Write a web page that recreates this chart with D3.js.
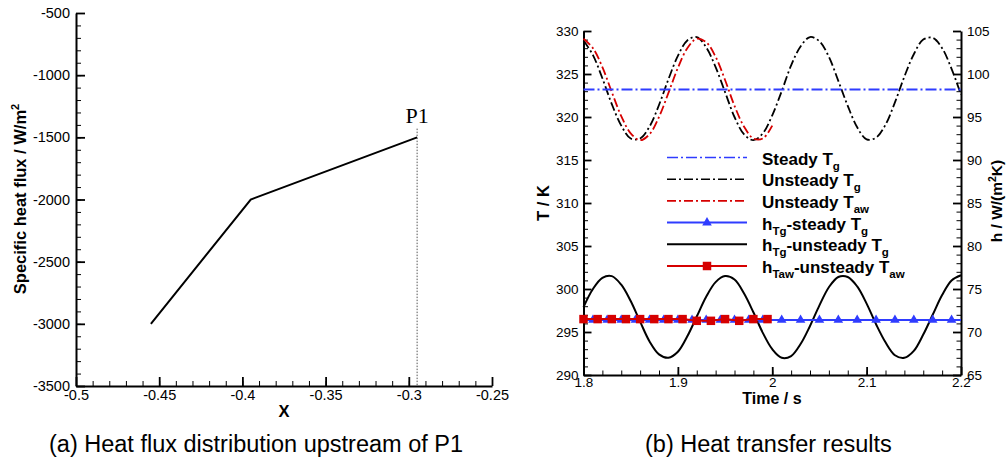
<!DOCTYPE html>
<html>
<head>
<meta charset="utf-8">
<script src="https://cdn.jsdelivr.net/npm/d3@7"></script>
<style>
  body { margin: 0; background: #fff; }
</style>
</head>
<body>
<svg id="fig" width="1008" height="463"></svg>
<script>
// ---- (a) heat flux upstream of P1 ----
const fluxX = [-0.455, -0.395, -0.295];
const fluxQ = [-3000, -2000, -1500];
const p1X = -0.295;
const p1LineTop = -1430;
const fluxXTicks = [-0.5, -0.45, -0.4, -0.35, -0.3, -0.25];
const fluxYTicks = [-3500, -3000, -2500, -2000, -1500, -1000, -500];

// ---- (b) heat transfer results ----
const timeT = [1.80, 1.81, 1.82, 1.83, 1.84, 1.85, 1.86, 1.87, 1.88, 1.89,
               1.90, 1.91, 1.92, 1.93, 1.94, 1.95, 1.96, 1.97, 1.98, 1.99,
               2.00, 2.01, 2.02, 2.03, 2.04, 2.05, 2.06, 2.07, 2.08, 2.09,
               2.10, 2.11, 2.12, 2.13, 2.14, 2.15, 2.16, 2.17, 2.18, 2.19, 2.20];
const unsteadyTg = [328.9, 327.2, 324.5, 321.5, 319.0, 317.5, 317.5, 318.9, 321.4, 324.4,
                    327.1, 328.9, 329.3, 328.1, 325.8, 322.9, 320.0, 318.0, 317.3, 318.1,
                    320.2, 323.0, 326.0, 328.2, 329.3, 328.8, 327.0, 324.2, 321.3, 318.8,
                    317.4, 317.6, 319.1, 321.7, 324.7, 327.3, 329.0, 329.2, 328.0, 325.6, 322.6];
const timeTaw = [1.80, 1.81, 1.82, 1.83, 1.84, 1.85, 1.86, 1.87, 1.88, 1.89,
                 1.90, 1.91, 1.92, 1.93, 1.94, 1.95, 1.96, 1.97, 1.98, 1.99, 2.00];
const unsteadyTaw = [329.1, 328.0, 325.8, 322.9, 320.1, 318.1, 317.3, 318.0, 320.0, 322.8,
                     325.7, 328.0, 329.1, 328.7, 327.0, 324.3, 321.3, 318.9, 317.5, 317.5, 319.0];
const timeSteady = [1.80, 2.20];
const steadyTg = [323.2, 323.2];
const hUnsteadyTg = [72.9, 75.0, 76.3, 76.5, 75.5, 73.6, 71.2, 68.9, 67.4, 67.0,
                     67.7, 69.5, 71.8, 74.1, 75.8, 76.5, 76.1, 74.5, 72.3, 69.9,
                     68.0, 67.0, 67.2, 68.6, 70.7, 73.1, 75.2, 76.4, 76.4, 75.3,
                     73.3, 70.9, 68.8, 67.3, 67.0, 67.8, 69.7, 72.0, 74.3, 76.0, 76.6];
const timeHSteady = [1.81, 1.825, 1.84, 1.855, 1.87, 1.885, 1.90, 1.915, 1.93, 1.945,
                     1.96, 1.975, 1.99, 2.01, 2.03, 2.05, 2.07, 2.09, 2.11, 2.13,
                     2.15, 2.17, 2.19];
const hSteadyTg = [71.4, 71.4, 71.4, 71.4, 71.4, 71.4, 71.4, 71.4, 71.4, 71.4,
                   71.4, 71.4, 71.4, 71.4, 71.4, 71.4, 71.4, 71.4, 71.4, 71.4,
                   71.4, 71.4, 71.4];
const timeHTaw = [1.800, 1.815, 1.830, 1.845, 1.860, 1.875, 1.890, 1.905, 1.920, 1.935,
                  1.950, 1.965, 1.980, 1.995];
const hUnsteadyTaw = [71.5, 71.5, 71.5, 71.5, 71.5, 71.5, 71.5, 71.5, 71.3, 71.3,
                      71.5, 71.3, 71.5, 71.5];
const timeTicks = [1.8, 1.9, 2.0, 2.1, 2.2];
const tempTicks = [290, 295, 300, 305, 310, 315, 320, 325, 330];
const hTicks = [65, 70, 75, 80, 85, 90, 95, 100, 105];

const FONT = '"Liberation Sans", Arial, Helvetica, sans-serif';
const BLUE = '#2f3cff';
const RED = '#d60000';

const svg = d3.select('#fig');

// plain hyphen minus, like the original figure
const plain = digits => d => String(+d.toFixed(digits));

function styleAxis(g, size) {
  g.attr('font-family', FONT).attr('font-size', size);
  g.select('.domain').attr('stroke', '#000').attr('stroke-width', 2);
  g.selectAll('.tick line').attr('stroke', '#000').attr('stroke-width', 1.8);
  g.selectAll('.tick text').attr('fill', '#000');
}
function styleMinor(g) {
  g.select('.domain').remove();
  g.selectAll('.tick line').attr('stroke', '#000').attr('stroke-width', 1);
}

// ================= (a) =================
const xF = d3.scaleLinear().domain([-0.5, -0.25]).range([76, 492]);
const yF = d3.scaleLinear().domain([-3500, -500]).range([386, 13]);

svg.append('g').attr('transform', 'translate(0,386)')
  .call(d3.axisBottom(xF).tickValues(d3.range(-0.5, -0.2499, 0.01)).tickSize(-5).tickFormat(''))
  .call(styleMinor);
svg.append('g').attr('transform', 'translate(76,0)')
  .call(d3.axisLeft(yF).tickValues(d3.range(-3500, -499, 100)).tickSize(-5).tickFormat(''))
  .call(styleMinor);

svg.append('g').attr('transform', 'translate(0,386)')
  .call(d3.axisBottom(xF).tickValues(fluxXTicks).tickSizeInner(-9).tickSizeOuter(0).tickPadding(4)
    .tickFormat(plain(2)))
  .call(g => styleAxis(g, 14.5));
svg.append('g').attr('transform', 'translate(76,0)')
  .call(d3.axisLeft(yF).tickValues(fluxYTicks).tickSizeInner(-9).tickSizeOuter(0).tickPadding(6)
    .tickFormat(plain(0)))
  .call(g => styleAxis(g, 14.5));

// P1 marker line
svg.append('line')
  .attr('x1', xF(p1X)).attr('x2', xF(p1X))
  .attr('y1', yF(p1LineTop)).attr('y2', yF(-3500))
  .attr('stroke', '#555').attr('stroke-width', 1).attr('stroke-dasharray', '1.5,1.5');
svg.append('text')
  .attr('x', xF(p1X)).attr('y', 123)
  .attr('text-anchor', 'middle')
  .attr('font-family', '"Liberation Serif", "Times New Roman", serif')
  .attr('font-size', 22).text('P1');

const fluxData = fluxX.map((x, i) => ({x, q: fluxQ[i]}));
svg.append('path').datum(fluxData)
  .attr('fill', 'none').attr('stroke', '#000').attr('stroke-width', 2)
  .attr('d', d3.line().x(d => xF(d.x)).y(d => yF(d.q)));

// axis titles (a)
svg.append('text').attr('x', 284).attr('y', 417).attr('text-anchor', 'middle')
  .attr('font-family', FONT).attr('font-weight', 'bold').attr('font-size', 16.5).text('X');
const yTitleA = svg.append('text')
  .attr('transform', 'translate(26,199) rotate(-90)')
  .attr('text-anchor', 'middle')
  .attr('font-family', FONT).attr('font-weight', 'bold').attr('font-size', 16.5);
yTitleA.append('tspan').text('Specific heat flux / W/m');
yTitleA.append('tspan').attr('dy', -7).attr('font-size', 11).text('2');

// ================= (b) =================
const xT = d3.scaleLinear().domain([1.8, 2.2]).range([583.5, 961]);
const yT = d3.scaleLinear().domain([290, 330]).range([375, 31]);
const yH = d3.scaleLinear().domain([65, 105]).range([375, 31]);

svg.append('g').attr('transform', 'translate(0,375)')
  .call(d3.axisBottom(xT).tickValues(d3.range(1.8, 2.2001, 0.02)).tickSize(-4.5).tickFormat(''))
  .call(styleMinor);
svg.append('g').attr('transform', 'translate(583.5,0)')
  .call(d3.axisLeft(yT).tickValues(d3.range(290, 330.01, 1)).tickSize(-4.5).tickFormat(''))
  .call(styleMinor);
svg.append('g').attr('transform', 'translate(961,0)')
  .call(d3.axisRight(yH).tickValues(d3.range(65, 105.01, 1)).tickSize(-4.5).tickFormat(''))
  .call(styleMinor);

svg.append('g').attr('transform', 'translate(0,375)')
  .call(d3.axisBottom(xT).tickValues(timeTicks).tickSizeInner(-8).tickSizeOuter(0).tickPadding(2)
    .tickFormat(plain(1)))
  .call(g => styleAxis(g, 13.5));
svg.append('g').attr('transform', 'translate(583.5,0)')
  .call(d3.axisLeft(yT).tickValues(tempTicks).tickSizeInner(-8).tickSizeOuter(0).tickPadding(5))
  .call(g => styleAxis(g, 13.5));
svg.append('g').attr('transform', 'translate(961,0)')
  .call(d3.axisRight(yH).tickValues(hTicks).tickSizeInner(-8).tickSizeOuter(0).tickPadding(6))
  .call(g => styleAxis(g, 13.5));

const plot = svg.append('g');
const lineT = d3.line().x(d => xT(d.t)).y(d => yT(d.v)).curve(d3.curveCatmullRom);
const lineH = d3.line().x(d => xT(d.t)).y(d => yH(d.v)).curve(d3.curveCatmullRom);
const zip = (ts, vs) => ts.map((t, i) => ({t, v: vs[i]}));

// temperature curves (left axis)
plot.append('path').datum(zip(timeT, unsteadyTg))
  .attr('fill', 'none').attr('stroke', '#000').attr('stroke-width', 1.8)
  .attr('stroke-dasharray', '9,3,2,3').attr('d', lineT);
plot.append('path').datum(zip(timeTaw, unsteadyTaw))
  .attr('fill', 'none').attr('stroke', RED).attr('stroke-width', 1.8)
  .attr('stroke-dasharray', '9,3,2,3').attr('d', lineT);
plot.append('path').datum(zip(timeSteady, steadyTg))
  .attr('fill', 'none').attr('stroke', BLUE).attr('stroke-width', 1.8)
  .attr('stroke-dasharray', '11,3,2,3').attr('d', lineT);

// heat transfer coefficient curves (right axis)
plot.append('path').datum(zip(timeT, hUnsteadyTg))
  .attr('fill', 'none').attr('stroke', '#000').attr('stroke-width', 2).attr('d', lineH);

const hSteadyPts = zip(timeHSteady, hSteadyTg);
const hSteadyLine = [{t: xT.domain()[0], v: hSteadyTg[0]}, ...hSteadyPts,
                     {t: xT.domain()[1], v: hSteadyTg[hSteadyTg.length - 1]}];
plot.append('path').datum(hSteadyLine)
  .attr('fill', 'none').attr('stroke', BLUE).attr('stroke-width', 2)
  .attr('d', d3.line().x(d => xT(d.t)).y(d => yH(d.v)));
plot.selectAll('.tri').data(hSteadyPts).join('path')
  .attr('class', 'tri')
  .attr('transform', d => `translate(${xT(d.t)},${yH(d.v)})`)
  .attr('d', d3.symbol(d3.symbolTriangle, 40)).attr('fill', BLUE);

const hTawPts = zip(timeHTaw, hUnsteadyTaw);
plot.append('path').datum(hTawPts)
  .attr('fill', 'none').attr('stroke', RED).attr('stroke-width', 2)
  .attr('d', d3.line().x(d => xT(d.t)).y(d => yH(d.v)));
plot.selectAll('.sq').data(hTawPts).join('path')
  .attr('class', 'sq')
  .attr('transform', d => `translate(${xT(d.t)},${yH(d.v)})`)
  .attr('d', d3.symbol(d3.symbolSquare, 72)).attr('fill', RED);

// legend
const legendItems = [
  {color: BLUE, dash: '11,3,2,3', marker: null, parts: [['Steady T', 0], ['g', 1]]},
  {color: '#000', dash: '9,3,2,3', marker: null, parts: [['Unsteady T', 0], ['g', 1]]},
  {color: RED, dash: '9,3,2,3', marker: null, parts: [['Unsteady T', 0], ['aw', 1]]},
  {color: BLUE, dash: null, marker: 'tri', parts: [['h', 0], ['Tg', 1], ['-steady T', 0], ['g', 1]]},
  {color: '#000', dash: null, marker: null, parts: [['h', 0], ['Tg', 1], ['-unsteady T', 0], ['g', 1]]},
  {color: RED, dash: null, marker: 'sq', parts: [['h', 0], ['Taw', 1], ['-unsteady T', 0], ['aw', 1]]}
];
const legend = svg.append('g');
legendItems.forEach((it, i) => {
  const y = 157.5 + i * 21.7;
  legend.append('line').attr('x1', 667).attr('x2', 747).attr('y1', y).attr('y2', y)
    .attr('stroke', it.color).attr('stroke-width', it.dash ? 1.6 : 2)
    .attr('stroke-dasharray', it.dash);
  if (it.marker === 'tri') {
    legend.append('path').attr('transform', `translate(707,${y})`)
      .attr('d', d3.symbol(d3.symbolTriangle, 40)).attr('fill', it.color);
  } else if (it.marker === 'sq') {
    legend.append('path').attr('transform', `translate(707,${y})`)
      .attr('d', d3.symbol(d3.symbolSquare, 72)).attr('fill', it.color);
  }
  const txt = legend.append('text').attr('x', 762).attr('y', y + 7)
    .attr('font-family', FONT).attr('font-weight', 'bold').attr('font-size', 17);
  let shifted = false;
  it.parts.forEach(([s, sub]) => {
    const ts = txt.append('tspan').text(s);
    if (sub && !shifted) { ts.attr('dy', 5).attr('font-size', 11.5); shifted = true; }
    else if (sub) { ts.attr('font-size', 11.5); }
    else if (!sub && shifted) { ts.attr('dy', -5); shifted = false; }
  });
});

// axis titles (b)
svg.append('text').attr('x', 772).attr('y', 404).attr('text-anchor', 'middle')
  .attr('font-family', FONT).attr('font-weight', 'bold').attr('font-size', 16).text('Time / s');
svg.append('text').attr('transform', 'translate(549,203) rotate(-90)').attr('text-anchor', 'middle')
  .attr('font-family', FONT).attr('font-weight', 'bold').attr('font-size', 16.5).text('T / K');
const yTitleB = svg.append('text')
  .attr('transform', 'translate(1002,201) rotate(-90)')
  .attr('text-anchor', 'middle')
  .attr('font-family', FONT).attr('font-weight', 'bold').attr('font-size', 15.5);
yTitleB.append('tspan').text('h / W/(m');
yTitleB.append('tspan').attr('dy', -6).attr('font-size', 10.5).text('2');
yTitleB.append('tspan').attr('dy', 6).text('K)');

// captions
svg.append('text').attr('x', 49).attr('y', 452)
  .attr('font-family', FONT).attr('font-size', 23.5).text('(a) Heat flux distribution upstream of P1');
svg.append('text').attr('x', 645).attr('y', 452)
  .attr('font-family', FONT).attr('font-size', 23.5).text('(b) Heat transfer results');
</script>
</body>
</html>
